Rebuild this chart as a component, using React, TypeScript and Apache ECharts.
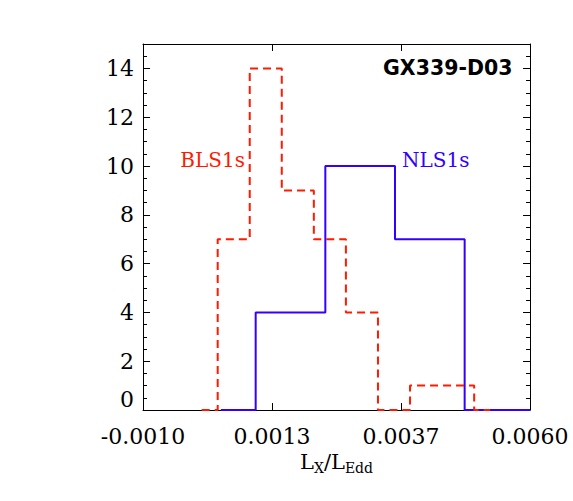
import { useEffect, useRef } from 'react';
import * as echarts from 'echarts';

// x tick positions (axis split in three equal parts)
const xTicks = [-0.001, 0.0013333, 0.0036667, 0.006];

// BLS1s histogram: bin centres and counts
const blsCenters = [0.000061, 0.000641, 0.00122, 0.0018, 0.00238, 0.00296, 0.00354, 0.00412, 0.0047, 0.00528];
const blsCounts = [0, 7, 14, 9, 7, 4, 0, 1, 1, 0];

// NLS1s histogram: bin centres and counts (last point runs to the axis end)
const nlsCenters = [0.000408, 0.001668, 0.002928, 0.004188, 0.005448, 0.006];
const nlsCounts = [0, 4, 10, 7, 0, 0];

const SERIF = '"DejaVu Serif", serif';
const pair = (xs: number[], ys: number[]) => xs.map((x, i) => [x, ys[i]]);

export default function App() {
    const ref = useRef<HTMLDivElement | null>(null);

    useEffect(() => {
        if (!ref.current) return;
        const chart = echarts.init(ref.current, undefined, { renderer: 'svg' });

        const axisLine = { show: true, onZero: false, lineStyle: { color: '#000', width: 1 } };
        const xTick = { show: true, inside: true, length: 7, customValues: xTicks, lineStyle: { color: '#000', width: 1 } };
        const yTick = { show: true, inside: true, length: 7, lineStyle: { color: '#000', width: 1 } };
        const yMinor = { show: true, splitNumber: 4, length: 4, lineStyle: { color: '#000', width: 1 } };

        chart.setOption({
            animation: false,
            backgroundColor: '#fff',
            grid: { left: 143, right: 43, top: 44, bottom: 91 },
            xAxis: [
                {
                    type: 'value', position: 'bottom', min: -0.001, max: 0.006,
                    axisLine, axisTick: xTick, splitLine: { show: false },
                    axisLabel: {
                        customValues: xTicks, formatter: (v: number) => v.toFixed(4),
                        fontFamily: SERIF, fontSize: 22, color: '#000', margin: 15
                    },
                    name: '{m|L}{s|X}{m|/L}{s|Edd}', nameLocation: 'middle', nameGap: 36,
                    nameTextStyle: {
                        rich: {
                            m: { fontFamily: SERIF, fontSize: 21, color: '#000', lineHeight: 26 },
                            s: { fontFamily: SERIF, fontSize: 14, color: '#000', lineHeight: 14, verticalAlign: 'bottom' }
                        }
                    }
                },
                {
                    type: 'value', position: 'top', min: -0.001, max: 0.006,
                    axisLine, axisTick: xTick, splitLine: { show: false }, axisLabel: { show: false }
                }
            ],
            yAxis: [
                {
                    type: 'value', position: 'left', min: 0, max: 15, interval: 2,
                    axisLine, axisTick: yTick, minorTick: yMinor,
                    splitLine: { show: false }, minorSplitLine: { show: false },
                    axisLabel: {
                        showMaxLabel: false, verticalAlignMinLabel: 'bottom',
                        fontFamily: SERIF, fontSize: 22, color: '#000', margin: 9
                    }
                },
                {
                    type: 'value', position: 'right', min: 0, max: 15, interval: 2,
                    axisLine, axisTick: yTick, minorTick: yMinor,
                    splitLine: { show: false }, minorSplitLine: { show: false },
                    axisLabel: { show: false }
                }
            ],
            series: [
                {
                    name: 'NLS1s', type: 'line', step: 'middle', symbol: 'none',
                    data: pair(nlsCenters, nlsCounts),
                    lineStyle: { color: '#3300ff', width: 2 }
                },
                {
                    name: 'BLS1s', type: 'line', step: 'middle', symbol: 'none',
                    data: pair(blsCenters, blsCounts),
                    lineStyle: { color: '#ff1a00', width: 2, type: [8, 5] }
                }
            ],
            graphic: [
                {
                    type: 'text', x: 383, y: 68,
                    style: {
                        text: 'GX339-D03', fontFamily: '"DejaVu Sans", sans-serif', fontWeight: 'bold',
                        fontSize: 20.5, fill: '#000', align: 'left', verticalAlign: 'middle'
                    }
                },
                {
                    type: 'text', x: 245, y: 160,
                    style: {
                        text: 'BLS1s', fontFamily: SERIF, fontSize: 20, fontWeight: 500,
                        fill: '#ff1a00', align: 'right', verticalAlign: 'middle'
                    }
                },
                {
                    type: 'text', x: 402, y: 160,
                    style: {
                        text: 'NLS1s', fontFamily: SERIF, fontSize: 20, fontWeight: 500,
                        fill: '#3300ff', align: 'left', verticalAlign: 'middle'
                    }
                }
            ]
        });

        return () => chart.dispose();
    }, []);

    return <div ref={ref} style={{ position: 'fixed', left: 0, top: 0, width: 573, height: 501 }}/>;
}
